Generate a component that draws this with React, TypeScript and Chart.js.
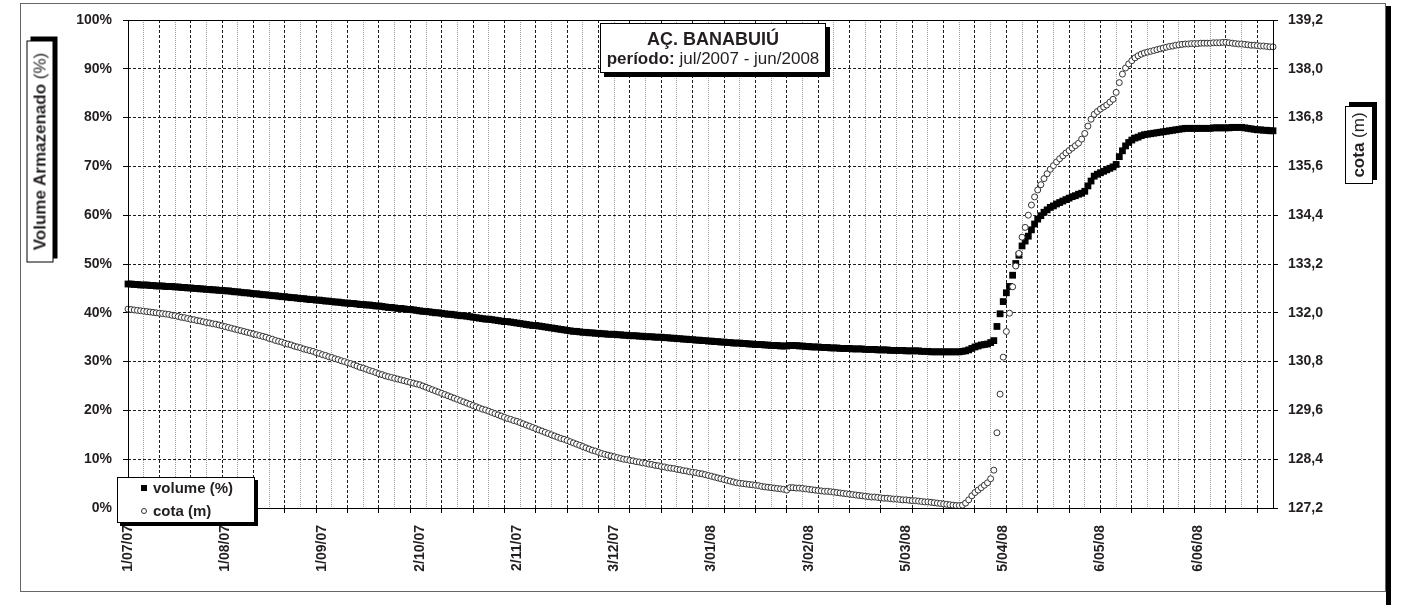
import { useEffect, useRef } from 'react';
import { Chart, registerables } from 'chart.js';

Chart.register(...registerables);

const FONT = '"Liberation Sans", Arial, sans-serif';
const TEXT = '#231f20';

// Daily values, 1 Jul 2007 .. 30 Jun 2008 (366 days)
const volume: number[] = [
  45.9, 45.9, 45.8, 45.8, 45.7, 45.7, 45.7, 45.6, 45.6, 45.5,
  45.5, 45.5, 45.4, 45.4, 45.4, 45.3, 45.3, 45.2, 45.2, 45.1,
  45.1, 45.0, 45.0, 44.9, 44.9, 44.8, 44.8, 44.7, 44.7, 44.6,
  44.6, 44.5, 44.5, 44.4, 44.3, 44.3, 44.2, 44.1, 44.1, 44.0,
  43.9, 43.9, 43.8, 43.7, 43.7, 43.6, 43.5, 43.5, 43.4, 43.3,
  43.3, 43.2, 43.1, 43.1, 43.0, 42.9, 42.9, 42.8, 42.7, 42.7,
  42.6, 42.6, 42.5, 42.4, 42.4, 42.3, 42.2, 42.2, 42.1, 42.0,
  42.0, 41.9, 41.9, 41.8, 41.7, 41.7, 41.6, 41.6, 41.5, 41.4,
  41.4, 41.3, 41.2, 41.1, 41.1, 41.0, 40.9, 40.9, 40.8, 40.7,
  40.7, 40.6, 40.5, 40.4, 40.3, 40.3, 40.2, 40.1, 40.0, 40.0,
  39.9, 39.8, 39.7, 39.7, 39.6, 39.5, 39.4, 39.4, 39.3, 39.2,
  39.1, 39.0, 38.9, 38.8, 38.7, 38.7, 38.6, 38.5, 38.4, 38.3,
  38.2, 38.2, 38.1, 38.0, 37.9, 37.8, 37.7, 37.6, 37.5, 37.4,
  37.4, 37.3, 37.2, 37.1, 37.0, 36.9, 36.8, 36.7, 36.6, 36.5,
  36.4, 36.3, 36.2, 36.2, 36.1, 36.0, 36.0, 35.9, 35.9, 35.8,
  35.8, 35.7, 35.7, 35.6, 35.6, 35.6, 35.5, 35.5, 35.4, 35.4,
  35.3, 35.3, 35.3, 35.2, 35.2, 35.1, 35.1, 35.1, 35.0, 35.0,
  35.0, 34.9, 34.9, 34.8, 34.8, 34.7, 34.7, 34.6, 34.6, 34.5,
  34.5, 34.4, 34.4, 34.3, 34.3, 34.2, 34.2, 34.1, 34.1, 34.0,
  34.0, 33.9, 33.9, 33.8, 33.8, 33.8, 33.7, 33.7, 33.6, 33.6,
  33.5, 33.5, 33.5, 33.4, 33.4, 33.3, 33.3, 33.3, 33.2, 33.2,
  33.2, 33.3, 33.3, 33.3, 33.2, 33.2, 33.1, 33.1, 33.0, 33.0,
  33.0, 32.9, 32.9, 32.9, 32.8, 32.8, 32.8, 32.7, 32.7, 32.7,
  32.7, 32.6, 32.6, 32.6, 32.6, 32.5, 32.5, 32.5, 32.5, 32.4,
  32.4, 32.4, 32.4, 32.3, 32.3, 32.3, 32.3, 32.3, 32.2, 32.2,
  32.2, 32.2, 32.2, 32.1, 32.1, 32.1, 32.0, 32.0, 32.0, 32.0,
  32.0, 32.0, 32.0, 32.0, 32.0, 32.0, 32.1, 32.2, 32.4, 32.7,
  33.0, 33.2, 33.4, 33.5, 33.6, 33.9, 34.3, 37.2, 39.8, 42.3,
  44.1, 45.4, 47.7, 50.1, 51.8, 53.7, 54.7, 55.7, 57.0, 58.2,
  59.2, 59.9, 60.6, 61.1, 61.6, 61.9, 62.3, 62.6, 62.9, 63.2,
  63.5, 63.8, 64.0, 64.3, 64.5, 64.9, 66.0, 67.0, 68.0, 68.4,
  68.7, 69.0, 69.3, 69.6, 69.9, 70.4, 72.0, 73.2, 74.2, 74.9,
  75.4, 75.8, 76.0, 76.3, 76.5, 76.6, 76.7, 76.8, 76.9, 77.0,
  77.1, 77.2, 77.3, 77.4, 77.5, 77.6, 77.7, 77.8, 77.8, 77.8,
  77.8, 77.8, 77.8, 77.8, 77.8, 77.8, 77.9, 77.9, 77.9, 77.9,
  77.9, 77.9, 78.0, 78.0, 78.0, 78.0, 77.9, 77.8, 77.7, 77.6,
  77.5, 77.5, 77.4, 77.4, 77.3, 77.3,
];

const cota: number[] = [
  132.09, 132.08, 132.07, 132.06, 132.05, 132.04, 132.03, 132.02, 132.01, 132.00,
  131.99, 131.98, 131.97, 131.96, 131.94, 131.93, 131.91, 131.89, 131.88, 131.86,
  131.84, 131.83, 131.81, 131.80, 131.78, 131.76, 131.75, 131.73, 131.72, 131.70,
  131.68, 131.66, 131.64, 131.62, 131.60, 131.58, 131.56, 131.54, 131.52, 131.50,
  131.48, 131.46, 131.44, 131.42, 131.40, 131.37, 131.35, 131.32, 131.30, 131.28,
  131.25, 131.23, 131.21, 131.18, 131.16, 131.14, 131.11, 131.09, 131.07, 131.05,
  131.02, 131.00, 130.97, 130.95, 130.92, 130.90, 130.87, 130.85, 130.82, 130.80,
  130.77, 130.75, 130.72, 130.69, 130.66, 130.64, 130.61, 130.58, 130.56, 130.53,
  130.50, 130.48, 130.45, 130.43, 130.41, 130.39, 130.37, 130.35, 130.33, 130.31,
  130.29, 130.27, 130.25, 130.23, 130.20, 130.17, 130.14, 130.11, 130.08, 130.05,
  130.02, 129.99, 129.96, 129.93, 129.90, 129.87, 129.84, 129.81, 129.78, 129.75,
  129.72, 129.69, 129.66, 129.63, 129.61, 129.58, 129.55, 129.52, 129.49, 129.46,
  129.43, 129.40, 129.38, 129.35, 129.33, 129.30, 129.27, 129.24, 129.21, 129.18,
  129.15, 129.12, 129.09, 129.06, 129.03, 129.00, 128.97, 128.94, 128.91, 128.89,
  128.86, 128.83, 128.80, 128.77, 128.74, 128.71, 128.68, 128.65, 128.62, 128.60,
  128.57, 128.54, 128.52, 128.50, 128.48, 128.46, 128.44, 128.42, 128.40, 128.39,
  128.37, 128.36, 128.34, 128.33, 128.31, 128.30, 128.28, 128.27, 128.25, 128.24,
  128.22, 128.21, 128.19, 128.18, 128.17, 128.15, 128.14, 128.12, 128.11, 128.09,
  128.08, 128.07, 128.05, 128.04, 128.02, 128.00, 127.98, 127.96, 127.94, 127.92,
  127.90, 127.88, 127.86, 127.84, 127.82, 127.81, 127.80, 127.79, 127.78, 127.77,
  127.76, 127.75, 127.73, 127.72, 127.71, 127.70, 127.69, 127.68, 127.67, 127.66,
  127.64, 127.70, 127.70, 127.69, 127.69, 127.68, 127.67, 127.66, 127.65, 127.64,
  127.63, 127.62, 127.61, 127.61, 127.60, 127.59, 127.58, 127.57, 127.56, 127.55,
  127.54, 127.53, 127.52, 127.51, 127.50, 127.49, 127.48, 127.47, 127.47, 127.46,
  127.45, 127.44, 127.44, 127.43, 127.42, 127.42, 127.41, 127.40, 127.40, 127.39,
  127.38, 127.38, 127.37, 127.36, 127.35, 127.35, 127.34, 127.33, 127.32, 127.31,
  127.30, 127.29, 127.28, 127.27, 127.26, 127.26, 127.27, 127.32, 127.40, 127.50,
  127.58, 127.64, 127.70, 127.76, 127.82, 127.92, 128.13, 129.05, 130.00, 130.91,
  131.54, 131.99, 132.64, 133.15, 133.46, 133.86, 134.10, 134.40, 134.65, 134.85,
  135.02, 135.15, 135.30, 135.42, 135.53, 135.62, 135.71, 135.79, 135.86, 135.93,
  135.99, 136.05, 136.11, 136.17, 136.27, 136.41, 136.59, 136.76, 136.88, 136.95,
  137.01, 137.06, 137.11, 137.18, 137.25, 137.42, 137.66, 137.87, 138.02, 138.12,
  138.20, 138.27, 138.32, 138.36, 138.39, 138.41, 138.43, 138.45, 138.47, 138.49,
  138.51, 138.53, 138.55, 138.56, 138.58, 138.59, 138.60, 138.61, 138.61, 138.62,
  138.62, 138.62, 138.63, 138.63, 138.63, 138.63, 138.64, 138.64, 138.64, 138.65,
  138.65, 138.64, 138.63, 138.62, 138.61, 138.61, 138.60, 138.59, 138.58, 138.58,
  138.57, 138.56, 138.56, 138.55, 138.54, 138.54,
];

const volumeTicks = [0, 10, 20, 30, 40, 50, 60, 70, 80, 90, 100];
const cotaTicks = [127.2, 128.4, 129.6, 130.8, 132.0, 133.2, 134.4, 135.6, 136.8, 138.0, 139.2];
const LABEL_EVERY = 31; // a date label every 31 days
const MAJOR_GRID = 10; // dark vertical grid + tick every 10 days
const MINOR_GRID = 5; // light vertical grid every 5 days

// Category labels: one per day starting 1 Jul 2007
const categories: string[] = volume.map((_, i) => {
  const d = new Date(2007, 6, 1 + i);
  const mm = String(d.getMonth() + 1).padStart(2, '0');
  const yy = String(d.getFullYear()).slice(2);
  return `${d.getDate()}/${mm}/${yy}`;
});

const tickFont = { family: FONT, size: 14, weight: 'bold' as const };

export default function App() {
  const ref = useRef<HTMLCanvasElement>(null);

  useEffect(() => {
    if (!ref.current) return;
    const areaBorder = {
      id: 'areaBorder',
      afterDatasetsDraw(chart: any) {
        const { ctx, chartArea: a } = chart;
        ctx.save();
        ctx.strokeStyle = '#000';
        ctx.lineWidth = 1;
        ctx.setLineDash([]);
        ctx.strokeRect(Math.round(a.left) + 0.5, Math.round(a.top) + 0.5, Math.round(a.right - a.left), Math.round(a.bottom - a.top));
        ctx.restore();
      },
    };

    const chart = new Chart(ref.current, {
      type: 'line',
      data: {
        labels: categories,
        datasets: [
          {
            label: 'cota (m)',
            data: cota,
            yAxisID: 'y2',
            order: 0,
            showLine: false,
            pointStyle: 'circle',
            pointRadius: 3,
            pointBorderWidth: 1,
            pointBorderColor: '#333333',
            pointBackgroundColor: '#ffffff',
            clip: 8,
          },
          {
            label: 'volume (%)',
            data: volume,
            yAxisID: 'y',
            order: 1,
            showLine: false,
            pointStyle: 'rect',
            pointRadius: 4.8,
            pointBorderWidth: 0,
            pointBackgroundColor: '#000000',
            clip: 8,
          },
        ],
      },
      options: {
        responsive: false,
        animation: false,
        events: [],
        layout: { padding: { top: 20, left: 0, right: 0, bottom: 0 } },
        plugins: {
          legend: { display: false },
          tooltip: { enabled: false },
          title: { display: false },
        },
        scales: {
          x: {
            type: 'category',
            offset: false,
            grid: {
              offset: false,
              lineWidth: 1,
              color: (c: any) =>
                c.index % MAJOR_GRID === 0 ? '#1e1e1e' : c.index % MINOR_GRID === 0 ? '#9a9a9a' : 'transparent',
              drawTicks: true,
              tickLength: 5,
              tickColor: (c: any) => (c.index % MAJOR_GRID === 0 ? '#000' : 'transparent'),
              tickBorderDash: [],
            },
            border: {
              display: false,
              dash: (c: any) => (c.index % MAJOR_GRID === 0 ? [3, 2] : [1, 1]),
            },
            ticks: {
              autoSkip: false,
              maxRotation: 90,
              minRotation: 90,
              padding: 12,
              color: TEXT,
              font: tickFont,
              callback: (_v: any, i: number) => (i % LABEL_EVERY === 0 ? categories[i] : ''),
            },
            afterFit: (s: any) => {
              s.height = 97;
            },
          },
          y: {
            position: 'left',
            min: 0,
            max: 100,
            afterBuildTicks: (s: any) => {
              s.ticks = volumeTicks.map((v) => ({ value: v }));
            },
            grid: { color: '#1e1e1e', lineWidth: 1, tickColor: '#000', tickLength: 5, tickBorderDash: [] },
            border: { display: false, dash: [3, 2] },
            ticks: {
              padding: 11,
              color: TEXT,
              font: tickFont,
              callback: (v: any) => `${v}%`,
            },
            afterFit: (s: any) => {
              s.width = 128;
            },
          },
          y2: {
            position: 'right',
            min: 127.2,
            max: 139.2,
            afterBuildTicks: (s: any) => {
              s.ticks = cotaTicks.map((v) => ({ value: v }));
            },
            grid: { drawOnChartArea: false, tickColor: '#000', tickLength: 5, tickBorderDash: [] },
            border: { display: false },
            ticks: {
              padding: 10,
              color: TEXT,
              font: tickFont,
              callback: (v: any) => Number(v).toFixed(1).replace('.', ','),
            },
            afterFit: (s: any) => {
              s.width = 137;
            },
          },
        },
      },
      plugins: [areaBorder],
    } as any);
    return () => chart.destroy();
  }, []);

  const box: React.CSSProperties = {
    position: 'absolute',
    boxSizing: 'border-box',
    border: '1px solid #000',
    background: '#fff',
    color: TEXT,
    whiteSpace: 'nowrap',
  };

  return (
    <div style={{ position: 'absolute', left: 0, top: 0, width: 1410, height: 605, fontFamily: FONT, background: '#fff' }}>
      <div
        style={{
          position: 'absolute',
          left: 20,
          top: 3,
          width: 1366,
          height: 589,
          boxSizing: 'border-box',
          border: '1px solid #666',
        }}
      />
      <div style={{ position: 'absolute', left: 1386, top: 6, width: 5, height: 599, background: '#000' }} />
      <canvas ref={ref} width={1410} height={605} style={{ position: 'absolute', left: 0, top: 0, width: 1410, height: 605 }} />

      {/* Title */}
      <div style={{ ...box, left: 600, top: 23, width: 226, height: 50, boxShadow: '4px 4px 0 #000', textAlign: 'center', paddingTop: 5 }}>
        <div style={{ fontSize: 18, fontWeight: 'bold', lineHeight: '20px' }}>AÇ. BANABUIÚ</div>
        <div style={{ fontSize: 17, lineHeight: '20px' }}>
          <b>período:</b> jul/2007 - jun/2008
        </div>
      </div>

      {/* Left axis title */}
      <div
        style={{
          ...box,
          left: 39.5 - 111,
          top: 151 - 13.5,
          width: 222,
          height: 27,
          transform: 'rotate(-90deg)',
          boxShadow: '4px 4px 0 #000',
          display: 'flex',
          alignItems: 'center',
          justifyContent: 'center',
          fontSize: 17,
        }}
      >
        <b>Volume Armazenado</b>&nbsp;(%)
      </div>

      {/* Right axis title */}
      <div
        style={{
          ...box,
          left: 1359 - 39,
          top: 145 - 14,
          width: 78,
          height: 28,
          transform: 'rotate(-90deg)',
          boxShadow: '4px 4px 0 #000',
          display: 'flex',
          alignItems: 'center',
          justifyContent: 'center',
          fontSize: 17,
        }}
      >
        <b>cota</b>&nbsp;(m)
      </div>

      {/* Legend */}
      <div style={{ ...box, left: 117, top: 477, width: 138, height: 46, boxShadow: '3px 3px 0 #000' }}>
        <div style={{ position: 'absolute', left: 23, top: 7, width: 6, height: 6, background: '#000' }} />
        <div style={{ position: 'absolute', left: 35, top: 1, fontSize: 15, fontWeight: 'bold', lineHeight: '18px' }}>volume (%)</div>
        <div
          style={{
            position: 'absolute',
            left: 23,
            top: 30,
            width: 6,
            height: 6,
            boxSizing: 'border-box',
            border: '1px solid #333',
            borderRadius: '50%',
            background: '#fff',
          }}
        />
        <div style={{ position: 'absolute', left: 35, top: 24, fontSize: 15, fontWeight: 'bold', lineHeight: '18px' }}>cota (m)</div>
      </div>
    </div>
  );
}
